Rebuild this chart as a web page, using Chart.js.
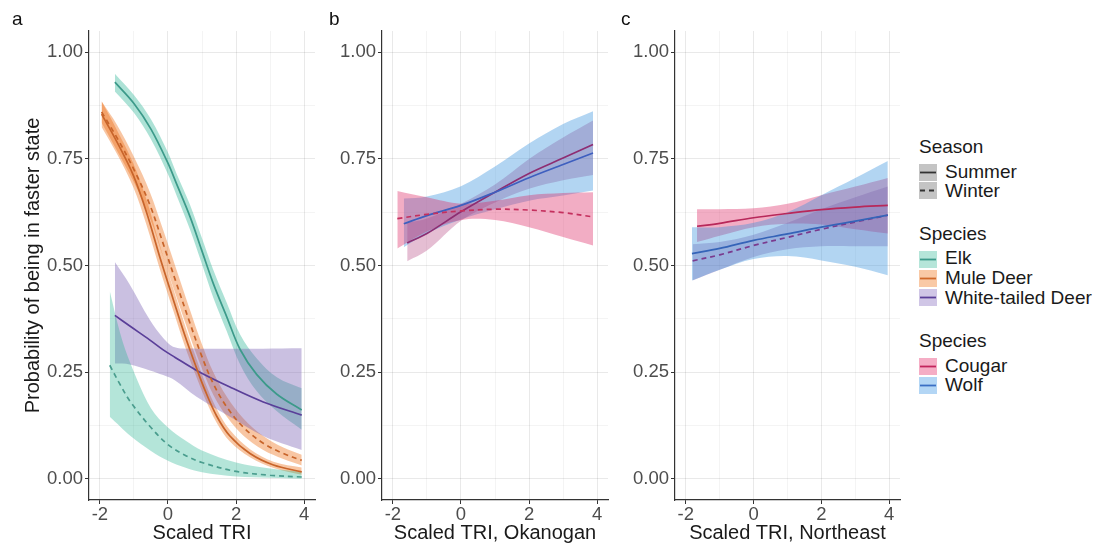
<!DOCTYPE html>
<html>
<head>
<meta charset="utf-8">
<script src="https://cdn.jsdelivr.net/npm/chart.js@4.4.0/dist/chart.umd.min.js"></script>
<style>
  html, body { margin:0; padding:0; background:#fff; }
  body { width:1116px; height:558px; position:relative; overflow:hidden; font-family:"Liberation Sans", Arial, sans-serif; }
  canvas { position:absolute; top:0; }
  .pl { position:absolute; font-size:19px; color:#111; line-height:20px; }
  .lg { position:absolute; font-size:19px; color:#1a1a1a; height:20px; line-height:20px; white-space:nowrap; }
  .sw { position:absolute; }
</style>
</head>
<body>
<canvas id="ca" width="330" height="558" style="left:0px"></canvas>
<canvas id="cb" width="292" height="558" style="left:320px"></canvas>
<canvas id="cc" width="300" height="558" style="left:612px"></canvas>

<div class="pl" style="left:12px;top:9px">a</div>
<div class="pl" style="left:329px;top:9px">b</div>
<div class="pl" style="left:621px;top:9px">c</div>

<div class="lg" style="left:919px;top:137px">Season</div>
<svg class="sw" style="left:919px;top:164px" width="18" height="36">
  <rect x="0" y="0" width="18" height="17" fill="#c4c4c4"/>
  <line x1="1" y1="8.5" x2="17" y2="8.5" stroke="#333" stroke-width="1.8"/>
  <rect x="0" y="18" width="18" height="17" fill="#c4c4c4"/>
  <line x1="1" y1="26.5" x2="17" y2="26.5" stroke="#333" stroke-width="1.8" stroke-dasharray="5,4"/>
</svg>
<div class="lg" style="left:945px;top:162px">Summer</div>
<div class="lg" style="left:945px;top:181px">Winter</div>

<div class="lg" style="left:919px;top:224px">Species</div>
<svg class="sw" style="left:919px;top:251px" width="18" height="56">
  <rect x="0" y="0" width="18" height="17" fill="#b5e5d9"/>
  <line x1="1" y1="8.5" x2="17" y2="8.5" stroke="#3c9a8a" stroke-width="1.8"/>
  <rect x="0" y="19" width="18" height="17" fill="#f9c9a6"/>
  <line x1="1" y1="27.5" x2="17" y2="27.5" stroke="#d0692a" stroke-width="1.8"/>
  <rect x="0" y="38" width="18" height="17" fill="#d0c6e6"/>
  <line x1="1" y1="46.5" x2="17" y2="46.5" stroke="#5a3f99" stroke-width="1.8"/>
</svg>
<div class="lg" style="left:945px;top:248px">Elk</div>
<div class="lg" style="left:945px;top:268px">Mule Deer</div>
<div class="lg" style="left:945px;top:288px">White-tailed Deer</div>

<div class="lg" style="left:919px;top:331px">Species</div>
<svg class="sw" style="left:919px;top:358px" width="18" height="37">
  <rect x="0" y="0" width="18" height="17" fill="#f5adc5"/>
  <line x1="1" y1="8.5" x2="17" y2="8.5" stroke="#c2245c" stroke-width="1.8"/>
  <rect x="0" y="19" width="18" height="17" fill="#b3d6f5"/>
  <line x1="1" y1="27.5" x2="17" y2="27.5" stroke="#3a6fc4" stroke-width="1.8"/>
</svg>
<div class="lg" style="left:945px;top:356px">Cougar</div>
<div class="lg" style="left:945px;top:375px">Wolf</div>

<script>
// ---------- axis ticks ----------
const X_TICKS = [-2, -1, 0, 1, 2, 3, 4];
const X_MAJOR = [-2, 0, 2, 4];
const Y_TICKS = [0, 0.125, 0.25, 0.375, 0.5, 0.625, 0.75, 0.875, 1];
const Y_MAJOR = [0, 0.25, 0.5, 0.75, 1];

// ---------- panel a: ungulates ----------
const elkSumX  = [-1.56, -1, -0.5, 0, 0.25, 0.65, 0.99, 1.33, 1.73, 2.12, 2.61, 3.2, 3.93];
const elkSum   = [0.93, 0.88, 0.82, 0.74, 0.692, 0.614, 0.536, 0.458, 0.379, 0.303, 0.244, 0.198, 0.161];
const elkSumHi = [0.95, 0.9, 0.843, 0.765, 0.716, 0.642, 0.566, 0.49, 0.412, 0.338, 0.282, 0.238, 0.212];
const elkSumLo = [0.908, 0.858, 0.796, 0.714, 0.665, 0.584, 0.505, 0.425, 0.345, 0.268, 0.205, 0.158, 0.115];

const elkWinX  = [-1.71, -1.4, -1.1, -0.5, 0, 0.5, 1, 2, 3, 3.93];
const elkWin   = [0.266, 0.22, 0.18, 0.12, 0.08, 0.055, 0.038, 0.017, 0.008, 0.004];
const elkWinHi = [0.44, 0.34, 0.27, 0.165, 0.12, 0.09, 0.066, 0.038, 0.024, 0.016];
const elkWinLo = [0.145, 0.122, 0.1, 0.065, 0.042, 0.026, 0.015, 0.005, 0.002, 0.0];

const muleSumX  = [-1.95, -1.5, -1.02, -0.63, -0.24, 0.16, 0.5, 0.79, 1.09, 1.43, 1.82, 2.41, 3.1, 3.93];
const muleSum   = [0.855, 0.79, 0.712, 0.625, 0.52, 0.419, 0.335, 0.27, 0.207, 0.147, 0.1, 0.059, 0.032, 0.016];
const muleSumHi = [0.885, 0.818, 0.74, 0.655, 0.548, 0.445, 0.36, 0.292, 0.226, 0.164, 0.114, 0.069, 0.04, 0.026];
const muleSumLo = [0.825, 0.762, 0.684, 0.595, 0.492, 0.393, 0.31, 0.248, 0.188, 0.131, 0.087, 0.05, 0.025, 0.009];

const muleWinX  = [-1.95, -1.5, -1.0, -0.53, -0.14, 0.25, 0.65, 0.99, 1.33, 1.73, 2.21, 2.8, 3.39, 3.93];
const muleWin   = [0.86, 0.8, 0.725, 0.642, 0.551, 0.458, 0.364, 0.288, 0.223, 0.168, 0.121, 0.083, 0.059, 0.043];
const muleWinHi = [0.885, 0.83, 0.755, 0.672, 0.583, 0.49, 0.395, 0.317, 0.25, 0.192, 0.142, 0.1, 0.073, 0.056];
const muleWinLo = [0.835, 0.77, 0.695, 0.611, 0.52, 0.426, 0.333, 0.26, 0.197, 0.145, 0.101, 0.067, 0.046, 0.031];

const wtdSumX  = [-1.56, -1.12, -0.53, -0.14, 0.2, 0.84, 1.82, 2.8, 3.93];
const wtdSum   = [0.383, 0.358, 0.325, 0.302, 0.285, 0.254, 0.215, 0.18, 0.149];
const wtdSumHi = [0.508, 0.455, 0.372, 0.33, 0.308, 0.305, 0.305, 0.305, 0.306];
const wtdSumLo = [0.27, 0.268, 0.254, 0.243, 0.231, 0.192, 0.145, 0.1, 0.067];

// ---------- panel b: Okanogan predators ----------
const bCouSumX  = [-1.58, -1, 0, 1, 2, 3, 3.88];
const bCouSum   = [0.553, 0.575, 0.626, 0.672, 0.716, 0.752, 0.784];
const bCouSumHi = [0.6, 0.61, 0.645, 0.69, 0.75, 0.8, 0.84];
const bCouSumLo = [0.51, 0.535, 0.605, 0.648, 0.68, 0.7, 0.712];

const bWolSumX  = [-1.68, -1, 0, 1, 2, 3, 3.88];
const bWolSum   = [0.598, 0.617, 0.641, 0.672, 0.706, 0.737, 0.764];
const bWolSumHi = [0.657, 0.662, 0.686, 0.732, 0.786, 0.832, 0.862];
const bWolSumLo = [0.543, 0.575, 0.608, 0.632, 0.652, 0.664, 0.676];

const bCouWinX  = [-1.87, -1, 0, 1, 2, 3, 3.88];
const bCouWin   = [0.61, 0.62, 0.628, 0.632, 0.63, 0.624, 0.614];
const bCouWinHi = [0.675, 0.66, 0.645, 0.652, 0.665, 0.67, 0.672];
const bCouWinLo = [0.54, 0.58, 0.607, 0.607, 0.59, 0.567, 0.547];

// ---------- panel c: Northeast predators ----------
const cCouSumX  = [-1.67, -1, 0, 1, 2, 3, 3.96];
const cCouSum   = [0.592, 0.599, 0.612, 0.622, 0.631, 0.637, 0.641];
const cCouSumHi = [0.632, 0.632, 0.634, 0.645, 0.665, 0.685, 0.705];
const cCouSumLo = [0.555, 0.57, 0.59, 0.598, 0.596, 0.585, 0.575];

const cWolSumX  = [-1.82, -1, 0, 1, 2, 3, 3.96];
const cWolSum   = [0.528, 0.54, 0.559, 0.574, 0.59, 0.604, 0.618];
const cWolSumHi = [0.59, 0.59, 0.6, 0.625, 0.665, 0.705, 0.745];
const cWolSumLo = [0.465, 0.49, 0.515, 0.522, 0.512, 0.497, 0.477];

const cWinX  = [-1.8, -1, 0, 1, 2, 3, 3.96];
const cWin   = [0.511, 0.525, 0.547, 0.566, 0.585, 0.602, 0.618];
const cWinHi = [0.55, 0.555, 0.572, 0.6, 0.632, 0.66, 0.685];
const cWinLo = [0.465, 0.49, 0.52, 0.538, 0.545, 0.545, 0.545];

// ---------- helpers ----------
const FONT = '"Liberation Sans", Arial, sans-serif';
const pts = (xs, ys) => xs.map((x, i) => ({x: x, y: ys[i]}));
const TENSION = 0.35;

function addBand(list, xs, lo, hi, fillColor) {
  list.push({ data: pts(xs, hi), borderWidth: 0, borderColor: 'rgba(0,0,0,0)', pointRadius: 0,
              fill: false, tension: TENSION, order: 2 });
  list.push({ data: pts(xs, lo), borderWidth: 0, borderColor: 'rgba(0,0,0,0)', pointRadius: 0,
              fill: '-1', backgroundColor: fillColor, tension: TENSION, order: 2 });
}
function addLine(list, xs, ys, color, dashed) {
  list.push({ data: pts(xs, ys), borderColor: color, borderWidth: 1.7, pointRadius: 0, fill: false,
              borderDash: dashed ? [5, 4] : [], tension: TENSION, order: 0 });
}

function makeChart(id, padRight, yWidth, xTitle, yTitle, datasets) {
  const isMajX = v => X_MAJOR.indexOf(v) >= 0;
  const isMajY = v => Y_MAJOR.indexOf(v) >= 0;
  new Chart(document.getElementById(id), {
    type: 'line',
    data: { datasets: datasets },
    options: {
      responsive: false, animation: false, events: [],
      layout: { padding: { left: 0, top: 31, right: padRight, bottom: 0 } },
      plugins: { legend: { display: false }, tooltip: { enabled: false } },
      scales: {
        x: {
          type: 'linear', min: -2.32, max: 4.32,
          afterBuildTicks: s => { s.ticks = X_TICKS.map(v => ({value: v})); },
          afterFit: s => { s.height = 58; },
          ticks: { callback: v => isMajX(v) ? String(v) : '', color: '#4d4d4d',
                   font: { family: FONT, size: 18.5 }, padding: 0, maxRotation: 0, autoSkip: false },
          grid: { color: c => isMajX(c.tick.value) ? 'rgba(0,0,0,0.085)' : 'rgba(0,0,0,0.045)',
                  lineWidth: 1, tickLength: 4,
                  tickColor: c => isMajX(c.tick.value) ? '#333' : 'rgba(0,0,0,0)' },
          border: { color: '#333', width: 1.2 },
          title: { display: true, text: xTitle, color: '#1a1a1a', font: { family: FONT, size: 20 },
                   padding: { top: 0, bottom: 13 } }
        },
        y: {
          type: 'linear', min: -0.05, max: 1.05,
          afterBuildTicks: s => { s.ticks = Y_TICKS.map(v => ({value: v})); },
          afterFit: s => { s.width = yWidth; },
          ticks: { callback: v => isMajY(v) ? v.toFixed(2) : '', color: '#4d4d4d',
                   font: { family: FONT, size: 18.5 }, padding: 2, autoSkip: false },
          grid: { color: c => isMajY(c.tick.value) ? 'rgba(0,0,0,0.085)' : 'rgba(0,0,0,0.045)',
                  lineWidth: 1, tickLength: 4,
                  tickColor: c => isMajY(c.tick.value) ? '#333' : 'rgba(0,0,0,0)' },
          border: { color: '#333', width: 1.2 },
          title: { display: !!yTitle, text: yTitle || '', color: '#1a1a1a', font: { family: FONT, size: 20 },
                   padding: { top: 21, bottom: 0 } }
        }
      }
    }
  });
}

// ---------- panel a ----------
const dsA = [];
addBand(dsA, elkWinX, elkWinLo, elkWinHi, 'rgba(40,180,147,0.35)');
addBand(dsA, wtdSumX, wtdSumLo, wtdSumHi, 'rgba(115,90,177,0.38)');
addBand(dsA, elkSumX, elkSumLo, elkSumHi, 'rgba(40,180,147,0.38)');
addBand(dsA, muleWinX, muleWinLo, muleWinHi, 'rgba(237,105,12,0.38)');
addBand(dsA, muleSumX, muleSumLo, muleSumHi, 'rgba(237,105,12,0.38)');
addLine(dsA, elkSumX, elkSum, '#3c9a8a', false);
addLine(dsA, elkWinX, elkWin, '#4a9d8e', true);
addLine(dsA, muleSumX, muleSum, '#c8642a', false);
addLine(dsA, muleWinX, muleWin, '#c8642a', true);
addLine(dsA, wtdSumX, wtdSum, '#5a3f99', false);
makeChart('ca', 15, 89, 'Scaled TRI', 'Probability of being in faster state', dsA);

// ---------- panel b ----------
const dsB = [];
addBand(dsB, bCouWinX, bCouWinLo, bCouWinHi, 'rgba(222,40,100,0.38)');
addBand(dsB, bWolSumX, bWolSumLo, bWolSumHi, 'rgba(52,145,222,0.38)');
addBand(dsB, bCouSumX, bCouSumLo, bCouSumHi, 'rgba(170,40,110,0.3)');
addLine(dsB, bCouWinX, bCouWin, '#c4305e', true);
addLine(dsB, bWolSumX, bWolSum, '#3e5fbf', false);
addLine(dsB, bCouSumX, bCouSum, '#8e2d72', false);
makeChart('cb', 4, 62, 'Scaled TRI, Okanogan', null, dsB);

// ---------- panel c ----------
const dsC = [];
addBand(dsC, cWolSumX, cWolSumLo, cWolSumHi, 'rgba(52,145,222,0.38)');
addBand(dsC, cCouSumX, cCouSumLo, cCouSumHi, 'rgba(222,40,100,0.38)');
addBand(dsC, cWinX, cWinLo, cWinHi, 'rgba(120,60,150,0.3)');
addLine(dsC, cCouSumX, cCouSum, '#b8285a', false);
addLine(dsC, cWolSumX, cWolSum, '#3564b8', false);
addLine(dsC, cWinX, cWin, '#7a3a8e', true);
makeChart('cc', 12, 63, 'Scaled TRI, Northeast', null, dsC);
</script>
</body>
</html>
